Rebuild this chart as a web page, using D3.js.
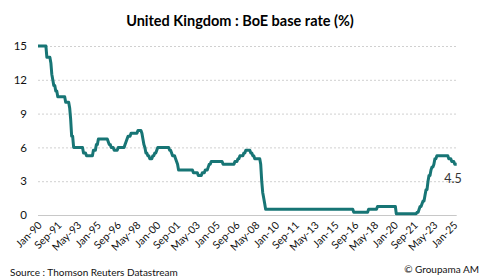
<!DOCTYPE html>
<html><head><meta charset="utf-8">
<script src="https://cdn.jsdelivr.net/npm/d3@7"></script>
<style>
html,body{margin:0;padding:0;background:#fff;}
svg{display:block;font-family:Lato,"Open Sans",sans-serif;}
</style></head>
<body>
<svg id="c" width="480" height="279"></svg>
<script>
const title = "United Kingdom : BoE base rate (%)";
const source = "Source : Thomson Reuters Datastream";
const credit = "© Groupama AM";
const lastLabel = "4.5";

const months = ["1990-01","1990-09","1990-10","1991-01","1991-02","1991-03","1991-04","1991-05","1991-06","1991-07","1991-08","1991-09","1992-04","1992-05","1992-08","1992-09","1992-10","1992-11","1992-12","1993-01","1993-10","1993-11","1994-01","1994-02","1994-08","1994-09","1994-11","1994-12","1995-01","1995-02","1995-11","1995-12","1996-01","1996-02","1996-03","1996-05","1996-06","1996-09","1996-10","1997-04","1997-05","1997-06","1997-07","1997-08","1997-10","1997-11","1998-05","1998-06","1998-09","1998-10","1998-11","1998-12","1999-01","1999-02","1999-03","1999-04","1999-05","1999-06","1999-08","1999-09","1999-10","1999-11","1999-12","2000-01","2000-02","2001-01","2001-02","2001-03","2001-04","2001-05","2001-07","2001-08","2001-09","2001-10","2001-11","2003-01","2003-02","2003-06","2003-07","2003-10","2003-11","2004-01","2004-02","2004-04","2004-05","2004-06","2004-07","2004-08","2005-07","2005-08","2006-07","2006-08","2006-10","2006-11","2006-12","2007-01","2007-04","2007-05","2007-06","2007-07","2007-11","2007-12","2008-01","2008-02","2008-03","2008-04","2008-09","2008-10","2008-11","2008-12","2009-01","2009-02","2009-03","2016-07","2016-08","2017-10","2017-11","2018-07","2018-08","2020-02","2020-03","2021-11","2021-12","2022-01","2022-02","2022-03","2022-04","2022-05","2022-06","2022-07","2022-08","2022-09","2022-10","2022-11","2022-12","2023-01","2023-02","2023-03","2023-04","2023-05","2023-06","2023-07","2023-08","2024-07","2024-08","2024-10","2024-11","2025-01","2025-02","2025-04"];
const rates = [15,15,14,14,13.5,12.5,12,11.5,11.5,11,11,10.5,10.5,10,10,9.5,8.5,7,7,6,6,5.5,5.5,5.25,5.25,5.75,5.75,6.25,6.25,6.75,6.75,6.5,6.25,6.25,6,6,5.75,5.75,6,6,6.25,6.5,6.75,7,7,7.25,7.25,7.5,7.5,7.25,6.75,6.25,6,5.5,5.5,5.25,5.25,5,5,5.25,5.25,5.5,5.5,5.75,6,6,5.75,5.75,5.5,5.25,5.25,5,4.75,4.5,4,4,3.75,3.75,3.5,3.5,3.75,3.75,4,4,4.25,4.5,4.5,4.75,4.75,4.5,4.5,4.75,4.75,5,5,5.25,5.25,5.5,5.5,5.75,5.75,5.5,5.5,5.25,5.25,5,5,4.5,3,2,1.5,1,0.5,0.5,0.25,0.25,0.5,0.5,0.75,0.75,0.1,0.1,0.25,0.25,0.5,0.75,0.75,1,1.25,1.25,1.75,2.25,2.25,3,3.5,3.5,4,4.25,4.25,4.5,5,5,5.25,5.25,5,5,4.75,4.75,4.5,4.5];

const tickMonths = ["1990-01","1991-09","1993-05","1995-01","1996-09","1998-05","2000-01","2001-09","2003-05","2005-01","2006-09","2008-05","2010-01","2011-09","2013-05","2015-01","2016-09","2018-05","2020-01","2021-09","2023-05","2025-01"];
const yTicks = [0,3,6,9,12,15];

const parse = d3.timeParse("%Y-%m");
const data = months.map((m,i)=>({d:parse(m), v:rates[i]}));

const svg = d3.select("#c");
const L = 38, R = 456.7, T = 46, B = 215;
const x = d3.scaleTime().domain([parse("1990-01"), parse("2025-04")]).range([L, R]);
const y = d3.scaleLinear().domain([0,15]).range([B, T]);

// title
svg.append("text").attr("x",240).attr("y",26).attr("text-anchor","middle")
  .attr("font-weight","bold").attr("font-size",14.5).attr("fill","#000").text(title);

// y grid + labels
const gy = svg.append("g").attr("transform",`translate(${L},0)`)
  .call(d3.axisLeft(y).tickValues(yTicks).tickSize(-(R-L)).tickPadding(11).tickFormat(d3.format("d")));
gy.select(".domain").remove();
gy.selectAll(".tick line").attr("stroke","#d0d0d0").attr("stroke-dasharray",d=>d===0?null:"2,2")
  .attr("stroke", d=>d===0?"#c8c8c8":"#d0d0d0");
gy.selectAll(".tick text").attr("font-size",11.5).attr("fill","#111").attr("font-family","Lato,sans-serif");

// x axis labels
const gx = svg.append("g").attr("transform",`translate(0,${B})`)
  .call(d3.axisBottom(x).tickValues(tickMonths.map(parse)).tickFormat(d3.timeFormat("%b-%y")).tickSize(0));
gx.select(".domain").remove();
gx.selectAll(".tick text").attr("font-size",10.5).attr("fill","#111").attr("font-family","Lato,sans-serif")
  .attr("text-anchor","end").attr("dy",null).attr("y",0)
  .attr("transform","translate(4,11) rotate(-45)");

// line
svg.append("path").datum(data)
  .attr("fill","none").attr("stroke","#177575").attr("stroke-width",3).attr("stroke-linejoin","round")
  .attr("d", d3.line().x(d=>x(d.d)).y(d=>y(d.v)));

// last label
const last = data[data.length-1];
svg.append("text").attr("x",x(last.d)+5).attr("y",y(last.v)+19).attr("text-anchor","end")
  .attr("font-size",12.5).attr("fill","#333").text(lastLabel);

// footer
svg.append("text").attr("x",10).attr("y",276).attr("font-size",10).attr("fill","#111").text(source);
svg.append("text").attr("x",479).attr("y",273).attr("text-anchor","end").attr("font-size",10).attr("fill","#111").text(credit);
</script>
</body></html>
